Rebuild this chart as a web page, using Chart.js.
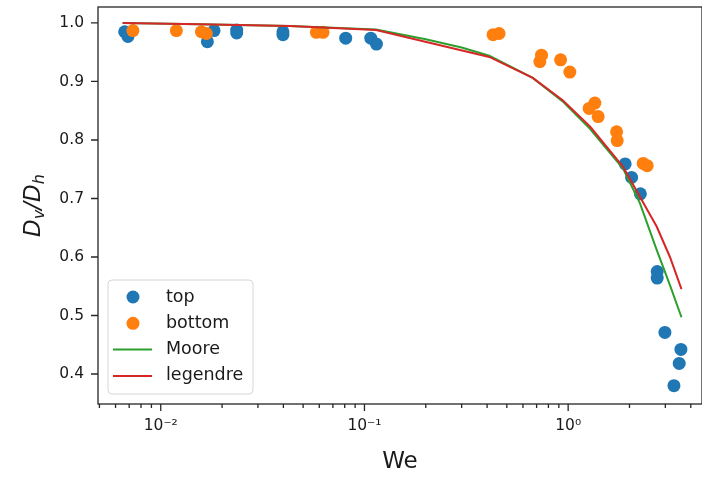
<!DOCTYPE html>
<html>
<head>
<meta charset="utf-8">
<title>Dv/Dh vs We</title>
<script src="https://cdn.jsdelivr.net/npm/chart.js@4.4.1/dist/chart.umd.min.js"></script>
<style>
  html, body { margin: 0; padding: 0; background: #fff; }
</style>
</head>
<body>
<canvas id="chart" width="702" height="477"></canvas>
<script>
// measured aspect ratio against Weber number
const topWe = [0.00665, 0.0069, 0.01826, 0.01694, 0.0236, 0.0236, 0.0398, 0.0398, 0.0809, 0.1074, 0.1145,
  1.905, 2.048, 2.262, 2.736, 2.736, 2.985, 3.577, 3.509, 3.306];
const topRatio = [0.985, 0.977, 0.987, 0.968, 0.988, 0.983, 0.985, 0.98, 0.974, 0.974, 0.964,
  0.759, 0.736, 0.708, 0.575, 0.564, 0.471, 0.442, 0.418, 0.38];

const bottomWe = [0.0073, 0.01193, 0.01583, 0.01675, 0.0581, 0.0626, 0.428, 0.458, 0.74, 0.726,
  0.918, 1.019, 1.352, 1.268, 1.404, 1.729, 1.741, 2.335, 2.443];
const bottomRatio = [0.987, 0.987, 0.985, 0.982, 0.984, 0.984, 0.98, 0.982, 0.945, 0.934,
  0.937, 0.916, 0.863, 0.854, 0.84, 0.814, 0.799, 0.76, 0.756];

// model curves
const mooreWe = [0.0065, 0.0155, 0.043, 0.114, 0.2, 0.3, 0.41, 0.67, 0.94, 1.28, 1.86, 2.25, 2.72, 3.16, 3.6];
const mooreRatio = [1.0, 0.998, 0.995, 0.989, 0.972, 0.958, 0.944, 0.906, 0.866, 0.819, 0.751, 0.692, 0.612, 0.552, 0.497];

const legendreWe = [0.0065, 0.0155, 0.043, 0.114, 0.41, 0.67, 0.94, 1.28, 1.86, 2.25, 2.72, 3.16, 3.6];
const legendreRatio = [1.0, 0.998, 0.995, 0.988, 0.942, 0.906, 0.868, 0.823, 0.754, 0.703, 0.652, 0.6, 0.545];

const xMin = 0.00492, xMax = 4.54;
const yMin = 0.3487, yMax = 1.0273;

const superDigits = { "-": "\u207b", "0": "\u2070", "1": "\u00b9", "2": "\u00b2", "3": "\u00b3" };
const powerLabel = (e) => "10" + String(e).split("").map((c) => superDigits[c]).join("");

const pts = (xs, ys) => xs.map((x, i) => ({ x: x, y: ys[i] }));

const textColor = "#1a1a1a";
const tickFont = { family: "DejaVu Sans", size: 15.5 };

// frame and tick marks, major/minor like a log axis
const axisFrame = {
  id: "axisFrame",
  afterDraw(chart) {
    const { ctx, chartArea: a, scales } = chart;
    ctx.save();
    ctx.strokeStyle = "#262626";
    ctx.lineWidth = 1.3;
    ctx.strokeRect(a.left, a.top, a.right - a.left, a.bottom - a.top);
    ctx.beginPath();
    scales.y.ticks.forEach((t) => {
      const py = scales.y.getPixelForValue(t.value);
      ctx.moveTo(a.left - 7, py);
      ctx.lineTo(a.left, py);
    });
    for (let e = -3; e <= 1; e++) {
      for (let k = 1; k <= 9; k++) {
        const v = k * Math.pow(10, e);
        if (v < xMin || v > xMax) continue;
        const px = scales.x.getPixelForValue(v);
        ctx.moveTo(px, a.bottom);
        ctx.lineTo(px, a.bottom + (k === 1 ? 7 : 4));
      }
    }
    ctx.stroke();
    ctx.restore();
  },
};

// y label with subscripts: D_v / D_h
const yLabel = {
  id: "yLabel",
  afterDraw(chart) {
    const { ctx, chartArea: a } = chart;
    const big = "italic 23px 'DejaVu Sans'";
    const small = "italic 16px 'DejaVu Sans'";
    const parts = [["D", big, 0], ["v", small, 4], ["/", big, 0], ["D", big, 0], ["h", small, 4]];
    ctx.save();
    ctx.translate(40, (a.top + a.bottom) / 2);
    ctx.rotate(-Math.PI / 2);
    ctx.fillStyle = textColor;
    ctx.textBaseline = "alphabetic";
    let total = 0;
    parts.forEach((p) => { ctx.font = p[1]; total += ctx.measureText(p[0]).width; });
    let x = -total / 2;
    parts.forEach((p) => {
      ctx.font = p[1];
      ctx.fillText(p[0], x, p[2]);
      x += ctx.measureText(p[0]).width;
    });
    ctx.restore();
  },
};

// legend box in the lower left of the plot
const cornerLegend = {
  id: "cornerLegend",
  afterDraw(chart) {
    const { ctx, chartArea: a } = chart;
    const bx = a.left + 10, by = 280, bw = 145, bh = 114;
    ctx.save();
    ctx.beginPath();
    ctx.roundRect(bx, by, bw, bh, 4);
    ctx.fillStyle = "rgba(255,255,255,0.8)";
    ctx.fill();
    ctx.strokeStyle = "#d6d6d6";
    ctx.lineWidth = 1;
    ctx.stroke();
    ctx.font = "17.5px 'DejaVu Sans'";
    ctx.textBaseline = "middle";
    chart.data.datasets.forEach((ds, i) => {
      const cy = by + 17 + i * 26.3;
      if (ds.showLine) {
        ctx.strokeStyle = ds.borderColor;
        ctx.lineWidth = 2;
        ctx.beginPath();
        ctx.moveTo(bx + 5, cy);
        ctx.lineTo(bx + 44, cy);
        ctx.stroke();
      } else {
        ctx.fillStyle = ds.backgroundColor;
        ctx.beginPath();
        ctx.arc(bx + 25, cy, 6.5, 0, Math.PI * 2);
        ctx.fill();
      }
      ctx.fillStyle = textColor;
      ctx.fillText(ds.label, bx + 58, cy);
    });
    ctx.restore();
  },
};

const zeroPadding = (scale) => {
  scale.paddingTop = 0;
  scale.paddingBottom = 0;
  scale.paddingLeft = 0;
  scale.paddingRight = 0;
};

new Chart(document.getElementById("chart"), {
  type: "scatter",
  data: {
    datasets: [
      { label: "top", data: pts(topWe, topRatio), backgroundColor: "#1f77b4", borderWidth: 0, pointRadius: 6.5, order: 3 },
      { label: "bottom", data: pts(bottomWe, bottomRatio), backgroundColor: "#ff7f0e", borderWidth: 0, pointRadius: 6.5, order: 2 },
      { label: "Moore", data: pts(mooreWe, mooreRatio), showLine: true, borderColor: "#2ca02c", backgroundColor: "#2ca02c", borderWidth: 2, pointRadius: 0, order: 1 },
      { label: "legendre", data: pts(legendreWe, legendreRatio), showLine: true, borderColor: "#d62728", backgroundColor: "#d62728", borderWidth: 2, pointRadius: 0, order: 0 },
    ],
  },
  options: {
    responsive: false,
    animation: false,
    layout: { autoPadding: false, padding: { top: 7, right: 0, left: 0, bottom: 0 } },
    plugins: {
      legend: { display: false },
      tooltip: { enabled: false },
    },
    scales: {
      x: {
        type: "logarithmic",
        min: xMin,
        max: xMax,
        grid: { display: false, drawTicks: true, tickLength: 7 },
        border: { display: false },
        ticks: {
          autoSkip: false,
          maxRotation: 0,
          padding: 6,
          color: textColor,
          font: tickFont,
          callback: (v) => {
            const e = Math.log10(v);
            return Math.abs(e - Math.round(e)) < 1e-9 ? powerLabel(Math.round(e)) : "";
          },
        },
        title: {
          display: true,
          text: "We",
          color: textColor,
          font: { family: "DejaVu Sans", size: 23 },
          padding: { top: 0, bottom: 1 },
        },
        afterFit: (scale) => { scale.height = 73; zeroPadding(scale); },
      },
      y: {
        min: yMin,
        max: yMax,
        grid: { display: false, drawTicks: true, tickLength: 7 },
        border: { display: false },
        ticks: {
          stepSize: 0.1,
          includeBounds: false,
          padding: 7,
          color: textColor,
          font: tickFont,
          callback: (v) => v.toFixed(1),
        },
        afterFit: (scale) => { scale.width = 98; zeroPadding(scale); },
      },
    },
  },
  plugins: [axisFrame, yLabel, cornerLegend],
});
</script>
</body>
</html>
